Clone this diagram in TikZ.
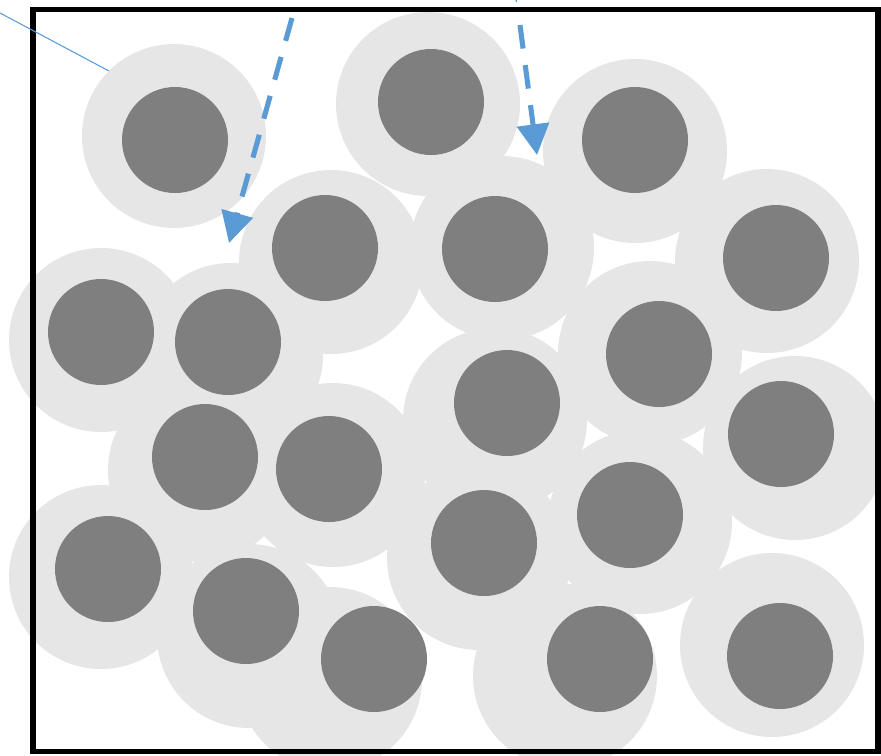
\documentclass[tikz,border=0pt]{standalone}
\usepackage{xcolor}
\usepackage{tikz}
\usetikzlibrary{arrows.meta}

\definecolor{haloGray}{HTML}{E6E6E6}
\definecolor{coreGray}{HTML}{7F7F7F}
\definecolor{rayBlue}{HTML}{5B9BD5}

\begin{document}
\begin{tikzpicture}[x=0.02cm,y=-0.02cm,
    halo/.style={fill=haloGray},
    core/.style={fill=coreGray},
    ray/.style={rayBlue,line width=2.9pt,dash pattern=on 13.5pt off 9.5pt,
      -{Triangle[length=17.5pt,width=18pt]}}]
    \clip (0,0) rectangle (881,755);
    % shells
    \fill[halo] (174,136) circle (92);
    \fill[halo] (428,104) circle (92);
    \fill[halo] (635,151) circle (92);
    \fill[halo] (331,262) circle (92);
    \fill[halo] (502,248) circle (92);
    \fill[halo] (767,261) circle (92);
    \fill[halo] (101,340) circle (92);
    \fill[halo] (231,355) circle (92);
    \fill[halo] (650,353) circle (92);
    \fill[halo] (495,420) circle (92);
    \fill[halo] (795,448) circle (92);
    \fill[halo] (200,470) circle (92);
    \fill[halo] (333,475) circle (92);
    \fill[halo] (640,522) circle (92);
    \fill[halo] (479,558) circle (92);
    \fill[halo] (101,577) circle (92);
    \fill[halo] (249,636) circle (92);
    \fill[halo] (330,679) circle (92);
    \fill[halo] (565,676) circle (92);
    \fill[halo] (772,645) circle (92);
    % cores
    \fill[core] (175,140) circle (53);
    \fill[core] (431,102) circle (53);
    \fill[core] (635,140) circle (53);
    \fill[core] (325,248) circle (53);
    \fill[core] (495,249) circle (53);
    \fill[core] (776,258) circle (53);
    \fill[core] (101,332) circle (53);
    \fill[core] (228,342) circle (53);
    \fill[core] (659,354) circle (53);
    \fill[core] (507,403) circle (53);
    \fill[core] (781,434) circle (53);
    \fill[core] (205,457) circle (53);
    \fill[core] (329,469) circle (53);
    \fill[core] (630,515) circle (53);
    \fill[core] (484,543) circle (53);
    \fill[core] (108,569) circle (53);
    \fill[core] (246,611) circle (53);
    \fill[core] (374,659) circle (53);
    \fill[core] (600,659) circle (53);
    \fill[core] (780,656) circle (53);
    % box
    \draw[line width=3.1pt] (33,9.5) rectangle (878,751.5);
    % rays
    \coordinate (ray1s) at (292,18);
    \coordinate (ray1e) at (229,243);
    \coordinate (ray2s) at (520,25);
    \coordinate (ray2e) at (537,155);
    \draw[ray] (ray1s)--(ray1e);
    \draw[ray] (ray2s)--(ray2e);
    \coordinate (lead1) at (0,13);
    \coordinate (lead2) at (109,71);
    \draw[rayBlue,line width=0.6pt] (lead1)--(lead2);
    \coordinate (tick1) at (516,-2);
    \coordinate (tick2) at (516.5,2);
    \draw[rayBlue,line width=0.8pt] (tick1)--(tick2);
  \end{tikzpicture}
\end{document}
